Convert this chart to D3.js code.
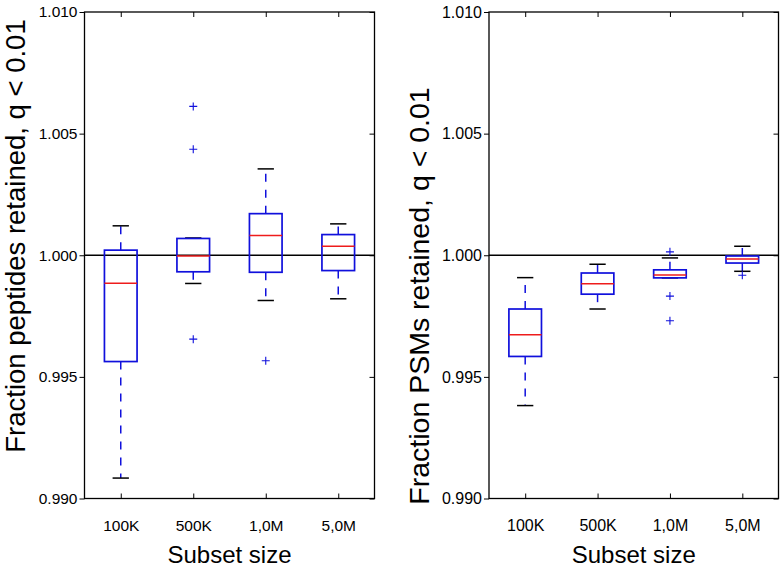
<!DOCTYPE html>
<html>
<head>
<meta charset="utf-8">
<script src="https://cdn.jsdelivr.net/npm/d3@7/dist/d3.min.js"></script>
<style>
  html, body { margin: 0; padding: 0; background: #ffffff; }
  svg { display: block; }
  text { font-family: "Liberation Sans", Arial, Helvetica, sans-serif; fill: #000; }
</style>
</head>
<body>
<svg id="chart" width="782" height="570"></svg>
<script>
// ---- data ----
const categories = ["100K", "500K", "1,0M", "5,0M"];
const yTicks = [0.990, 0.995, 1.000, 1.005, 1.010];

// Left panel: peptides
const peptLow  = [0.99084, 0.99884, 0.99814, 0.99821];
const peptQ1   = [0.99563, 0.99932, 0.99930, 0.99937];
const peptMed  = [0.99885, 0.99997, 1.00081, 1.00037];
const peptQ3   = [1.00021, 1.00069, 1.00171, 1.00085];
const peptHigh = [1.00121, 1.00071, 1.00355, 1.00129];
const peptFliers = [[], [1.00612, 1.00436, 0.99655], [0.99566], []];

// Right panel: PSMs
const psmLow  = [0.99382, 0.99779, 0.99907, 0.99934];
const psmQ1   = [0.99584, 0.99840, 0.99907, 0.99968];
const psmMed  = [0.99673, 0.99883, 0.99919, 0.99985];
const psmQ3   = [0.99779, 0.99927, 0.99940, 0.99997];
const psmHigh = [0.99908, 0.99963, 0.99989, 1.00037];
const psmFliers = [[], [], [1.00014, 0.99832, 0.99731], [0.99918]];

const yLabels = ["Fraction peptides retained, q < 0.01", "Fraction PSMs retained, q < 0.01"];
const xLabel = "Subset size";

// ---- drawing ----
const svg = d3.select("#chart");
const BLUE = "#1010dc", RED = "#ee1c1c";

function panel(opts) {
  const { x0, x1, y0, y1, low, q1, med, q3, high, fliers, ylab, ylabX, ylabY, ylabFont, tickFont } = opts;
  const g = svg.append("g");
  const x = d3.scalePoint().domain(categories).range([x0, x1]).padding(0.5);
  const y = d3.scaleLinear().domain([0.990, 1.010]).range([y1, y0]);
  const step = x.step();
  const bw = 0.45 * step, cw = bw / 2;

  // reference line at 1.0
  g.append("line").attr("x1", x0).attr("x2", x1)
    .attr("y1", y(1.0)).attr("y2", y(1.0))
    .attr("stroke", "#000").attr("stroke-width", 1.3);

  categories.forEach((c, i) => {
    const cx = x(c);
    // whiskers (dashed)
    g.append("line").attr("x1", cx).attr("x2", cx)
      .attr("y1", y(q1[i])).attr("y2", y(low[i]))
      .attr("stroke", BLUE).attr("stroke-width", 1.5).attr("stroke-dasharray", "8,8");
    g.append("line").attr("x1", cx).attr("x2", cx)
      .attr("y1", y(q3[i])).attr("y2", y(high[i]))
      .attr("stroke", BLUE).attr("stroke-width", 1.5).attr("stroke-dasharray", "8,8");
    // caps
    [low[i], high[i]].forEach(v => {
      g.append("line").attr("x1", cx - cw / 2).attr("x2", cx + cw / 2)
        .attr("y1", y(v)).attr("y2", y(v))
        .attr("stroke", "#000").attr("stroke-width", 1.5);
    });
    // box
    g.append("rect").attr("x", cx - bw / 2).attr("width", bw)
      .attr("y", y(q3[i])).attr("height", y(q1[i]) - y(q3[i]))
      .attr("fill", "none").attr("stroke", BLUE).attr("stroke-width", 1.7);
    // median
    g.append("line").attr("x1", cx - bw / 2).attr("x2", cx + bw / 2)
      .attr("y1", y(med[i])).attr("y2", y(med[i]))
      .attr("stroke", RED).attr("stroke-width", 1.5);
    // fliers
    fliers[i].forEach(v => {
      const fy = y(v), s = 4;
      g.append("path")
        .attr("d", `M${cx - s},${fy}H${cx + s}M${cx},${fy - s}V${fy + s}`)
        .attr("stroke", BLUE).attr("stroke-width", 1.1).attr("fill", "none");
    });
  });

  // frame
  g.append("rect").attr("x", x0).attr("y", y0).attr("width", x1 - x0).attr("height", y1 - y0)
    .attr("fill", "none").attr("stroke", "#000").attr("stroke-width", 1.3);

  // left axis (ticks outside, labels)
  const ax = g.append("g").attr("transform", `translate(${x0},0)`)
    .call(d3.axisLeft(y).tickValues(yTicks).tickFormat(d3.format(".3f")).tickSizeInner(5).tickSizeOuter(0).tickPadding(2));
  ax.select(".domain").remove();
  ax.selectAll("text").style("font-size", tickFont + "px").attr("font-family", null);
  ax.selectAll("line").attr("stroke-width", 1);
  // right side ticks (inside)
  const ar = g.append("g").attr("transform", `translate(${x1},0)`)
    .call(d3.axisLeft(y).tickValues(yTicks).tickSizeInner(5).tickSizeOuter(0).tickFormat(""));
  ar.select(".domain").remove();
  ar.selectAll("line").attr("stroke-width", 1);
  // bottom axis (ticks inside)
  const ab = g.append("g").attr("transform", `translate(0,${y1})`)
    .call(d3.axisBottom(x).tickSizeInner(-5).tickSizeOuter(0).tickPadding(21));
  ab.select(".domain").remove();
  ab.selectAll("text").style("font-size", tickFont + "px").attr("font-family", null);
  ab.selectAll("line").attr("stroke-width", 1);
  // top ticks (inside)
  const at = g.append("g").attr("transform", `translate(0,${y0})`)
    .call(d3.axisBottom(x).tickSizeInner(5).tickSizeOuter(0).tickFormat(""));
  at.select(".domain").remove();
  at.selectAll("line").attr("stroke-width", 1);

  // axis labels
  g.append("text").attr("transform", `translate(${ylabX},${ylabY}) rotate(-90)`)
    .attr("text-anchor", "middle").style("font-size", ylabFont + "px").text(ylab);
  g.append("text").attr("x", (x0 + x1) / 2).attr("y", 563)
    .attr("text-anchor", "middle").style("font-size", "24px").text(xLabel);
}

panel({ x0: 84.5, x1: 374.5, y0: 12, y1: 498.5,
  low: peptLow, q1: peptQ1, med: peptMed, q3: peptQ3, high: peptHigh, fliers: peptFliers,
  ylab: yLabels[0], ylabX: 25, ylabY: 236, ylabFont: 27.5, tickFont: 15.5 });
panel({ x0: 489, x1: 778.5, y0: 12, y1: 498.5,
  low: psmLow, q1: psmQ1, med: psmMed, q3: psmQ3, high: psmHigh, fliers: psmFliers,
  ylab: yLabels[1], ylabX: 429, ylabY: 296, ylabFont: 28.5, tickFont: 16 });
</script>
</body>
</html>
